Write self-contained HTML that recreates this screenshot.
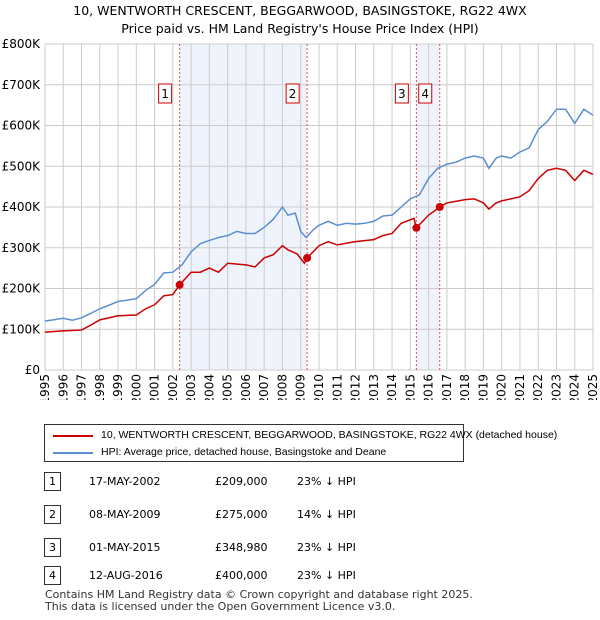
<!DOCTYPE html>
<html><head><meta charset="utf-8"><style>
body{margin:0;background:#fff;font-family:"DejaVu Sans","Liberation Sans",sans-serif;color:#000}
#wrap{position:relative;width:600px;height:620px}
.t{position:absolute;font-size:12px;white-space:nowrap}
</style></head><body><div id="wrap">
<div class="t" style="left:0;width:600px;text-align:center;top:2px;font-size:12.5px;line-height:18px">10, WENTWORTH CRESCENT, BEGGARWOOD, BASINGSTOKE, RG22 4WX<br>Price paid vs. HM Land Registry's House Price Index (HPI)</div>
<svg id="c" width="600" height="400" style="position:absolute;left:0;top:0;font-family:'DejaVu Sans',sans-serif"></svg>
<div style="position:absolute;left:44px;top:424px;width:418px;height:36px;border:1px solid #333">
 <div style="position:absolute;left:8px;top:10px;width:40px;border-top:2px solid #cc0000"></div>
 <div class="t" style="left:56px;top:4px;font-size:10.5px;font-family:'Liberation Sans',sans-serif">10, WENTWORTH CRESCENT, BEGGARWOOD, BASINGSTOKE, RG22 4WX (detached house)</div>
 <div style="position:absolute;left:8px;top:27px;width:40px;border-top:2px solid #5b8fd0"></div>
 <div class="t" style="left:56px;top:21px;font-size:10.5px;font-family:'Liberation Sans',sans-serif">HPI: Average price, detached house, Basingstoke and Deane</div>
</div>
<div id="tbl"></div>
<div class="t" style="left:45px;top:589px;font-size:11px;line-height:12px;color:#333">Contains HM Land Registry data © Crown copyright and database right 2025.<br>This data is licensed under the Open Government Licence v3.0.</div>
</div>
<script>
const hpiX=[1995,1996,1996.5,1997,1998,1999,2000,2000.5,2001,2001.5,2002,2002.5,2003,2003.5,2004,2004.5,2005,2005.5,2006,2006.5,2007,2007.5,2008,2008.3,2008.7,2009,2009.3,2009.7,2010,2010.5,2011,2011.5,2012,2012.5,2013,2013.5,2014,2014.5,2015,2015.5,2016,2016.5,2017,2017.5,2018,2018.5,2019,2019.3,2019.7,2020,2020.5,2021,2021.5,2022,2022.5,2023,2023.5,2024,2024.5,2025];
const hpiY=[120,127,122,128,150,168,175,195,210,238,240,258,290,310,318,325,330,340,335,335,350,370,400,380,385,340,325,345,355,365,355,360,358,360,365,378,380,400,420,430,470,495,505,510,520,525,520,495,520,525,520,535,545,590,610,640,640,605,640,625];
const redX=[1995,1996,1997,1997.5,1998,1999,2000,2000.5,2001,2001.5,2002,2002.2,2002.37,2003,2003.5,2004,2004.5,2005,2006,2006.5,2007,2007.5,2008,2008.3,2008.8,2009.2,2009.35,2010,2010.5,2011,2012,2013,2013.5,2014,2014.5,2015.2,2015.33,2016,2016.61,2017,2018,2018.5,2019,2019.3,2019.7,2020,2021,2021.5,2022,2022.5,2023,2023.5,2024,2024.5,2025];
const redY=[93,96,98,110,123,133,135,150,160,182,185,198,209,240,240,250,240,262,258,253,275,283,305,295,285,262,275,305,315,307,315,320,330,335,360,372,349,380,400,410,418,420,410,395,410,415,425,440,470,490,495,490,465,490,480];
const saleX=[2002.37,2009.35,2015.33,2016.61];
const saleY=[209,275,348.98,400];
const saleLbl=["1","2","3","4"];
const saleDate=["17-MAY-2002","08-MAY-2009","01-MAY-2015","12-AUG-2016"];
const salePrice=["£209,000","£275,000","£348,980","£400,000"];
const salePct=["23% ↓ HPI","14% ↓ HPI","23% ↓ HPI","23% ↓ HPI"];
const yTicks=[0,100,200,300,400,500,600,700,800];
const yLbl=["£0","£100K","£200K","£300K","£400K","£500K","£600K","£700K","£800K"];
const years=[];for(let y=1995;y<=2025;y++)years.push(y);
const X=v=>45+(v-1995)*(548/30), Y=v=>370-v*(326/800);
const s=document.getElementById('c'),NS='http://www.w3.org/2000/svg';
function mk(t,a,p){const e=document.createElementNS(NS,t);for(const k in a)e.setAttribute(k,a[k]);(p||s).appendChild(e);return e;}
for(let i=0;i<2;i++){const r=mk('rect',{x:X(saleX[i*2]),y:Y(800),width:X(saleX[i*2+1])-X(saleX[i*2]),height:Y(0)-Y(800),fill:'#eef3fc'});

}
yTicks.forEach((v,i)=>{const l=mk('line',{x1:45,x2:593,y1:Y(v),y2:Y(v),stroke:'#ccc'});


const t=mk('text',{x:40,y:Y(v)+4,'text-anchor':'end','font-size':12});t.textContent=yLbl[i];

});
years.forEach(y=>{const l=mk('line',{x1:X(y),x2:X(y),y1:Y(800),y2:Y(0),stroke:'#ccc'});


const t=mk('text',{transform:`translate(${X(y)+4},${374}) rotate(-90)`,'text-anchor':'end','font-size':12});t.textContent=y;

});
saleX.forEach((v,i)=>{const l=mk('line',{x1:X(v),x2:X(v),y1:Y(800),y2:Y(0),stroke:'#e05050','stroke-dasharray':'2,2'});


const g=mk('g',{});


mk('rect',{x:X(v)-21,y:84,width:13,height:19,fill:'#fff',stroke:'#cc0000'},g);
const t=mk('text',{x:X(v)-14.5,y:98,'text-anchor':'middle','font-size':12},g);t.textContent=saleLbl[i];});
const hp=mk('polyline',{points:hpiX.map((x,i)=>X(x)+','+Y(hpiY[i])).join(' '),fill:'none',stroke:'#5b8fd0','stroke-width':1.5});


const rp=mk('polyline',{points:redX.map((x,i)=>X(x)+','+Y(redY[i])).join(' '),fill:'none',stroke:'#cc0000','stroke-width':1.5});


saleX.forEach((v,i)=>{const c=mk('circle',{cx:X(v),cy:Y(saleY[i]),r:4,fill:'#cc0000'});

});
const tb=document.getElementById('tbl'),rowsY=[472,505,538,566];
saleLbl.forEach((n,i)=>{const r=document.createElement('div');


r.style.cssText=`position:absolute;left:0;top:${rowsY[i]}px;width:600px;height:20px;font-size:11px`;
r.innerHTML=`<div style="position:absolute;left:44px;top:0;width:15px;height:17px;border:1px solid #333;text-align:center;line-height:17px">${n}</div><div style="position:absolute;left:89px;top:3px">${saleDate[i]}</div><div style="position:absolute;left:215px;top:3px">${salePrice[i]}</div><div style="position:absolute;left:297px;top:3px">${salePct[i]}</div>`;
tb.appendChild(r);});
</script></body></html>
